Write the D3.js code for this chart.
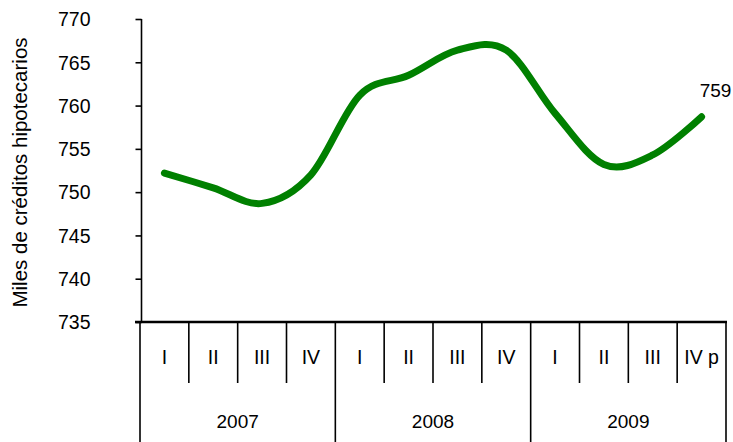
<!DOCTYPE html>
<html>
<head>
<meta charset="utf-8">
<script src="https://cdn.jsdelivr.net/npm/d3@7"></script>
<style>
  body { margin: 0; background: #fff; }
  text { font-family: "Liberation Sans", Arial, sans-serif; fill: #000; }
</style>
</head>
<body>
<svg></svg>
<script>
const years = ["2007", "2008", "2009"];
const quarters = ["I", "II", "III", "IV", "I", "II", "III", "IV", "I", "II", "III", "IV p"];
const values = [752.2, 750.5, 748.7, 752.0, 761.2, 763.5, 766.4, 766.4, 759.1, 753.2, 754.3, 758.7];
const yTicks = [735, 740, 745, 750, 755, 760, 765, 770];
const lastLabel = "759";

const width = 733;
const height = 442;
const margin = { top: 19, left: 140, bottom: 120, right: 7 };

const svg = d3.select("svg").attr("width", width).attr("height", height);

const x = d3.scaleBand().domain(d3.range(quarters.length))
  .range([margin.left, width - margin.right]);
const y = d3.scaleLinear().domain([735, 770])
  .range([height - margin.bottom, margin.top]);
const axisY = y(735);

// y axis
const yAxis = d3.axisLeft(y).tickValues(yTicks).tickSize(6).tickPadding(45);
const gy = svg.append("g")
  .attr("transform", `translate(${margin.left + 1.5},0)`)
  .call(yAxis);
gy.select(".domain").attr("stroke", "#000").attr("stroke-width", 1.6)
  .attr("d", `M0,${margin.top}V${axisY}`);
gy.selectAll(".tick line").attr("stroke", "#000").attr("stroke-width", 1.6);
gy.selectAll(".tick text").style("font-size", "19.5px").attr("dy", "0.35em");

svg.append("text")
  .attr("transform", `translate(27,${(margin.top + axisY) / 2 + 2}) rotate(-90)`)
  .attr("text-anchor", "middle")
  .style("font-size", "20.5px")
  .text("Miles de créditos hipotecarios");

// x axis: quarters and years
svg.append("line")
  .attr("x1", margin.left - 5).attr("x2", width - 6)
  .attr("y1", axisY).attr("y2", axisY)
  .attr("stroke", "#000").attr("stroke-width", 2.6);

const bounds = d3.range(quarters.length + 1);
svg.selectAll("line.sep")
  .data(bounds)
  .enter()
  .append("line")
  .attr("class", "sep")
  .attr("x1", i => i < quarters.length ? x(i) : x(i - 1) + x.bandwidth())
  .attr("x2", i => i < quarters.length ? x(i) : x(i - 1) + x.bandwidth())
  .attr("y1", axisY)
  .attr("y2", i => i % 4 === 0 ? height : axisY + 61)
  .attr("stroke", "#000").attr("stroke-width", 1.6);

svg.selectAll("text.q")
  .data(quarters)
  .enter()
  .append("text")
  .attr("class", "q")
  .attr("x", (d, i) => x(i) + x.bandwidth() / 2)
  .attr("y", axisY + 42)
  .attr("text-anchor", "middle")
  .style("font-size", "19.5px")
  .text(d => d);

svg.selectAll("text.yr")
  .data(years)
  .enter()
  .append("text")
  .attr("class", "yr")
  .attr("x", (d, i) => x(i * 4) + x.bandwidth() * 2)
  .attr("y", axisY + 106)
  .attr("text-anchor", "middle")
  .style("font-size", "19px")
  .text(d => d);

// line
const line = d3.line()
  .x((d, i) => x(i) + x.bandwidth() / 2)
  .y(d => y(d))
  .curve(d3.curveCardinal.tension(0));

svg.append("path")
  .datum(values)
  .attr("d", line)
  .attr("fill", "none")
  .attr("stroke", "#008000")
  .attr("stroke-width", 7)
  .attr("stroke-linecap", "round");

const n = values.length - 1;
svg.append("text")
  .attr("x", x(n) + x.bandwidth() / 2 + 14)
  .attr("y", y(values[n]) - 20)
  .attr("text-anchor", "middle")
  .style("font-size", "19px")
  .text(lastLabel);
</script>
</body>
</html>
